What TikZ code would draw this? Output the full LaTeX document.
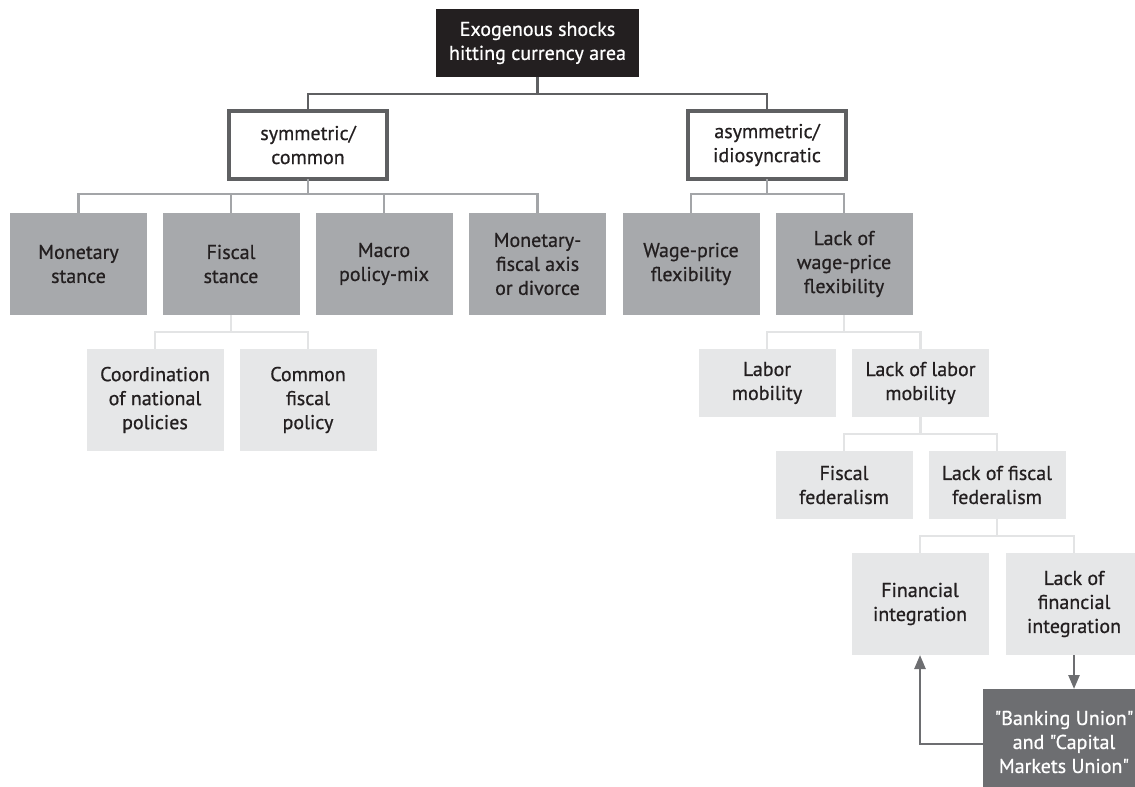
\documentclass[tikz,border=0pt]{standalone}
\usepackage{fontspec}
\setmainfont{PT Sans}
\newfontfamily\boxfont{PT Sans}[FakeBold=0.7]
\usetikzlibrary{arrows.meta}
\definecolor{blackbox}{HTML}{231F20}
\definecolor{darkline}{HTML}{5F6062}
\definecolor{midgray}{HTML}{A7A9AC}
\definecolor{midline}{HTML}{A3A5A8}
\definecolor{lightgray}{HTML}{E6E7E8}
\definecolor{lightline}{HTML}{E3E4E5}
\definecolor{bankgray}{HTML}{6D6E71}
\definecolor{textdark}{HTML}{231F20}
\begin{document}
\begin{tikzpicture}[x=1pt,y=-1pt,
  box/.style={inner sep=0pt, outer sep=0pt, align=center, text=textdark,
    font=\boxfont\fontsize{20}{24}\selectfont},
  topbox/.style={box, fill=blackbox, text=white, minimum width=203pt, minimum height=68pt},
  splitbox/.style={box, fill=white, draw=darkline, line width=4pt, minimum width=158pt, minimum height=68pt},
  graytall/.style={box, fill=midgray, minimum width=137pt, minimum height=102pt},
  lighttall/.style={box, fill=lightgray, minimum width=137pt, minimum height=102pt},
  lightshort/.style={box, fill=lightgray, minimum width=137pt, minimum height=68pt},
  bankbox/.style={box, fill=bankgray, text=white, minimum width=162pt, minimum height=106pt},
  dline/.style={draw=darkline, line width=2.5pt},
  mline/.style={draw=midline, line width=2.5pt},
  lline/.style={draw=lightline, line width=2.5pt},
  arr/.style={draw=bankgray, line width=2.5pt, -{Triangle[length=14pt,width=11pt]}}
]
\useasboundingbox (0,0) rectangle (1135,787);
\clip (0,0) rectangle (1135,787);

% nodes
\node[topbox] (top) at (537.5,43) {Exogenous shocks\\hitting currency area};
\node[splitbox] (sym) at (308,145) {symmetric/\\common};
\node[splitbox] (asym) at (767,145) {asymmetric/\\idiosyncratic};

\node[graytall] (monetary) at (78.5,264) {Monetary\\stance};
\node[graytall] (fiscal) at (231,264) {Fiscal\\stance};
\node[graytall] (macro) at (384,264) {Macro\\policy-mix};
\node[graytall] (mfa) at (537.5,264) {Monetary-\\fiscal axis\\or divorce};
\node[graytall] (wage) at (691,264) {Wage-price\\flexibility};
\node[graytall] (lackwage) at (844,264) {Lack of\\wage-price\\flexibility};

\node[lighttall] (coord) at (155,400) {Coordination\\of national\\policies};
\node[lighttall] (common) at (308,400) {Common\\fiscal\\policy};

\node[lightshort] (labor) at (767,383) {Labor\\mobility};
\node[lightshort] (lacklabor) at (920.5,383) {Lack of labor\\mobility};

\node[lightshort] (fisfed) at (844,485) {Fiscal\\federalism};
\node[lightshort] (lackfis) at (997,485) {Lack of fiscal\\federalism};

\node[lighttall] (finint) at (920,604) {Financial\\integration};
\node[lighttall] (lackfin) at (1074,604) {Lack of\\financial\\integration};

\node[bankbox] (bank) at (1064,742) {"Banking Union"\\and "Capital\\Markets Union"};

% connectors
\draw[dline] (top.south) -- ++(0,17) coordinate (tj);
\draw[dline] (tj) -| (sym.north);
\draw[dline] (tj) -| (asym.north);

\draw[mline] (sym.south) -- ++(0,15) coordinate (sj);
\draw[mline] (sj) -| (monetary.north);
\draw[mline] (sj) -| (fiscal.north);
\draw[mline] (sj) -| (macro.north);
\draw[mline] (sj) -| (mfa.north);

\draw[mline] (asym.south) -- ++(0,15) coordinate (aj);
\draw[mline] (aj) -| (wage.north);
\draw[mline] (aj) -| (lackwage.north);

\draw[lline] (fiscal.south) -- ++(0,17) coordinate (fj);
\draw[lline] (fj) -| (coord.north);
\draw[lline] (fj) -| (common.north);

\draw[lline] (lackwage.south) -- ++(0,17) coordinate (wj);
\draw[lline] (wj) -| (labor.north);
\draw[lline] (wj) -| (lacklabor.north);

\draw[lline] (lacklabor.south) -- ++(0,17) coordinate (lj);
\draw[lline] (lj) -| (fisfed.north);
\draw[lline] (lj) -| (lackfis.north);

\draw[lline] (lackfis.south) -- ++(0,17) coordinate (ffj);
\draw[lline] (ffj) -| (finint.north);
\draw[lline] (ffj) -| (lackfin.north);

\draw[arr] (lackfin.south) -- (lackfin.south |- bank.north);
\draw[arr] ([yshift=-2pt]bank.west) -| (finint.south);
\end{tikzpicture}
\end{document}
